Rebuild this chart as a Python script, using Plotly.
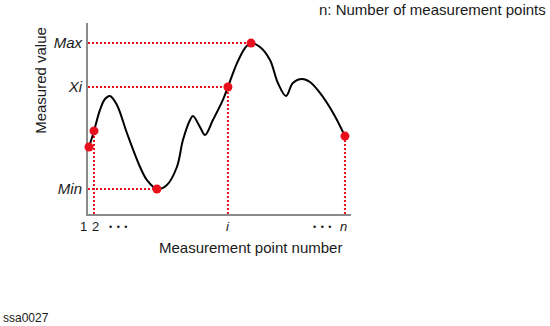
import plotly.graph_objects as go

# ---- data (measurement index 0..100, measured value 0..100) ----
curve_x = [0.38, 2.28, 4.56, 6.46, 8.37, 11.0, 14.8, 19.8, 22.4, 26.2, 30.0, 33.8, 36.1, 38.8, 39.9,
           42.6, 44.5, 47.5, 51.3, 53.2, 56.7, 59.7, 62.0, 65.4, 69.2, 72.2, 75.3, 77.9, 81.4, 84.4,
           88.2, 93.2, 97.7]
curve_y = [35.1, 43.5, 54.5, 60.2, 61.8, 57.1, 42.4, 24.6, 17.8, 13.1, 15.2, 24.6, 38.7, 49.2, 51.3,
           45.5, 41.4, 49.2, 59.7, 66.5, 79.1, 86.9, 89.5, 87.4, 80.6, 68.6, 61.8, 68.6, 70.7, 69.1,
           63.4, 52.9, 40.8]

point_names = ["1", "2", "Min", "Xi", "Max", "n"]
point_x = [0.38, 2.28, 26.2, 53.2, 62.0, 97.7]
point_y = [35.1, 43.5, 13.1, 66.5, 89.5, 40.8]

hline_points = ["Max", "Xi", "Min"]      # dotted guide to the value axis
vline_points = ["2", "Xi", "n"]          # dotted guide to the index axis

y_tick_labels = ["Max", "Xi", "Min"]
x_labels = ["1", "2", "\u2022\u2002\u2022\u2002\u2022", "i", "\u2022\u2002\u2022\u2002\u2022", "n"]
x_label_pos = [-1.9, 3.0, 11.4, 53.2, 89.0, 97.3]

X_RANGE = [0, 100]
Y_RANGE = [0, 100]

RED = "#e8101c"
FONT = "Liberation Sans, Arial, sans-serif"
TXT = "#1a1a1a"

fig = go.Figure()

pt = dict(zip(point_names, zip(point_x, point_y)))

for name in hline_points:
    px_, py_ = pt[name]
    fig.add_trace(go.Scatter(x=[X_RANGE[0], px_], y=[py_, py_], mode="lines",
                             line=dict(color=RED, width=2, dash="2px,2px"),
                             hoverinfo="skip", showlegend=False, cliponaxis=False))
for name in vline_points:
    px_, py_ = pt[name]
    fig.add_trace(go.Scatter(x=[px_, px_], y=[Y_RANGE[0], py_], mode="lines",
                             line=dict(color=RED, width=2, dash="2px,2px"),
                             hoverinfo="skip", showlegend=False, cliponaxis=False))

fig.add_trace(go.Scatter(x=curve_x, y=curve_y, mode="lines",
                         line=dict(color="black", width=2, shape="spline", smoothing=1.0),
                         hoverinfo="skip", showlegend=False, cliponaxis=False))

fig.add_trace(go.Scatter(x=point_x, y=point_y, mode="markers",
                         marker=dict(color=RED, size=9),
                         hoverinfo="skip", showlegend=False, cliponaxis=False))

y_vals = [pt[n][1] for n in y_tick_labels]

fig.update_xaxes(range=X_RANGE, showline=True, linecolor="#8a8a8a", linewidth=2, layer="below traces",
                 showgrid=False, zeroline=False, showticklabels=False, ticks="")
fig.update_yaxes(range=Y_RANGE, showline=True, linecolor="#8a8a8a", linewidth=2, layer="below traces",
                 showgrid=False, zeroline=False, ticks="", tickvals=y_vals,
                 ticktext=[f"<i>{t}</i>" for t in y_tick_labels],
                 tickfont=dict(family=FONT, size=15, color=TXT), ticklabelstandoff=1)

annotations = []
span = X_RANGE[1] - X_RANGE[0]
for lab, xp in zip(x_labels, x_label_pos):
    small = "\u2022" in lab
    annotations.append(dict(x=(xp - X_RANGE[0]) / span, y=-0.068, xref="paper", yref="paper",
                            text=(f"<i>{lab}</i>" if lab in ("i", "n") else lab),
                            showarrow=False, xanchor="center", yanchor="middle",
                            font=dict(family=FONT, size=9 if small else 13, color=TXT)))
annotations.append(dict(x=0.616, y=-0.178, xref="paper", yref="paper", text="Measurement point number",
                        showarrow=False, xanchor="center", yanchor="middle",
                        font=dict(family=FONT, size=15, color=TXT)))
annotations.append(dict(x=-0.179, y=0.702, xref="paper", yref="paper", text="Measured value",
                        textangle=-90, showarrow=False, xanchor="center", yanchor="middle",
                        font=dict(family=FONT, size=15, color=TXT)))
annotations.append(dict(x=1.749, y=1.073, xref="paper", yref="paper", text="n: Number of measurement points",
                        showarrow=False, xanchor="right", yanchor="middle",
                        font=dict(family=FONT, size=15, color=TXT)))
annotations.append(dict(x=-0.331, y=-0.545, xref="paper", yref="paper", text="ssa0027",
                        showarrow=False, xanchor="left", yanchor="middle",
                        font=dict(family=FONT, size=12, color=TXT)))

fig.update_layout(width=550, height=326, margin=dict(l=88, r=199, t=23, b=112),
                  paper_bgcolor="white", plot_bgcolor="white", annotations=annotations,
                  font=dict(family=FONT))

fig.write_html("out.html")
